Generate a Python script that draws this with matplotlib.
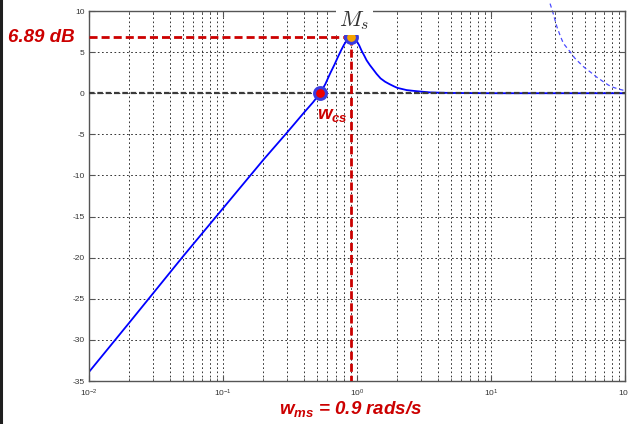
import matplotlib
matplotlib.use("Agg")
import matplotlib.pyplot as plt
from matplotlib.lines import Line2D

plt.rcParams['font.family'] = ['Liberation Sans', 'DejaVu Sans']
plt.rcParams['mathtext.fontset'] = 'custom'
plt.rcParams['mathtext.rm'] = 'Liberation Sans'
plt.rcParams['mathtext.it'] = 'Liberation Sans:italic:bold'
plt.rcParams['mathtext.bf'] = 'Liberation Sans:bold'
plt.rcParams['lines.scale_dashes'] = False
plt.rcParams['axes.unicode_minus'] = False

# Sensitivity magnitude |S(jw)| in dB
w = [0.01, 0.02, 0.05, 0.1, 0.2, 0.3, 0.4, 0.47, 0.53, 0.58, 0.63, 0.68, 0.72,
     0.76, 0.80, 0.84, 0.87, 0.90, 0.93, 0.96, 1.00, 1.04, 1.08, 1.13, 1.18,
     1.25, 1.32, 1.40, 1.50, 1.62, 1.75, 1.88, 2.0, 2.35, 2.7, 3.0, 3.5, 5.0,
     10.0, 20.0, 50.0, 100.0]
S_db = [-33.9, -27.9, -19.9, -14.0, -8.1, -4.8, -2.4, -1.1, 0.0, 1.1, 2.4, 3.5,
        4.4, 5.2, 5.9, 6.45, 6.75, 6.89, 6.85, 6.65, 6.3, 5.8, 5.2, 4.6, 4.0,
        3.4, 2.9, 2.35, 1.8, 1.4, 1.1, 0.85, 0.65, 0.38, 0.27, 0.2, 0.1, 0.03,
        0.0, 0.0, 0.0, 0.0]

# Second (dashed) magnitude curve at high frequency
w_hf = [27.6, 29.0, 31.0, 33.0, 34.7, 38.9, 42.0, 46.2, 50.0, 54.8, 61.0,
        68.9, 75.0, 81.9, 90.0, 100.0]
hf_db = [10.9, 9.8, 8.1, 6.9, 6.06, 5.05, 4.3, 3.63, 3.1, 2.61, 2.0,
         1.40, 1.0, 0.71, 0.5, 0.31]

# Marked points
w_cs, cs_db = 0.53, 0.0
w_ms, Ms_db = 0.9, 6.89

x_ticks = [0.01, 0.1, 1, 10, 100]
y_ticks = [-35, -30, -25, -20, -15, -10, -5, 0, 5, 10]

RED = '#cc0000'

fig = plt.figure(figsize=(6.28, 4.24), dpi=100)
ax = fig.add_axes([89 / 628, 1 - 381 / 424, 536 / 628, 370 / 424])
ax.set_xscale('log')
ax.set_xlim(0.01, 100)
ax.set_ylim(-35, 10)
ax.set_xticks(x_ticks)
ax.set_yticks(y_ticks)

ax.grid(True, which='both', axis='x', color='#333333', linestyle=(0, (1.2, 1.8)), lw=0.7)
ax.grid(True, which='major', axis='y', color='#333333', linestyle=(0, (1.2, 1.8)), lw=0.7)
ax.set_axisbelow(True)

for sp in ax.spines.values():
    sp.set_color('#555555')
    sp.set_linewidth(1.0)
ax.tick_params(which='both', direction='in', top=True, right=True, colors='#555555',
               labelcolor='#333333', labelsize=6)
ax.tick_params(which='major', length=4)
ax.tick_params(which='minor', length=2.5)
ax.tick_params(axis='x', pad=5)
ax.tick_params(axis='y', pad=3)

# curves
ax.plot(w, S_db, color='#0000ff', lw=1.3, zorder=2)
ax.plot(w_hf, hf_db, color='#4b4bff', lw=0.9, linestyle=(0, (3, 2.2)), clip_on=False, zorder=2)

# 0 dB reference
ax.axhline(0, color='#3a3a3a', lw=1.6, linestyle=(0, (4, 2)), zorder=3)

# peak guides
ax.plot([0.01, w_ms], [Ms_db, Ms_db], color=RED, lw=2.0, linestyle=(0, (5.8, 2.9)), zorder=4)
ax.plot([w_ms, w_ms], [Ms_db, -35], color=RED, lw=2.0, linestyle=(0, (5.8, 2.9)), zorder=4)

# markers
ax.plot([w_cs], [cs_db], marker='o', ms=8.5, mfc='#ee0000', mec='#3a3ae0', mew=2.2, zorder=6)
ax.plot([w_ms], [Ms_db], marker='o', ms=8.5, mfc='#f5a300', mec='#3a3ae0', mew=2.2, zorder=6)

# annotations
ax.text(0.957, 8.17, r'$M_s$', math_fontfamily='cm', fontsize=16, color='#333333',
        ha='center', va='baseline', zorder=7, clip_on=False,
        bbox=dict(boxstyle='square,pad=0.15', fc='white', ec='none'))
ax.text(0.50, -3.1, r'$w_{cs}$', fontsize=13.5, color=RED, ha='left', va='baseline', zorder=7)

fig.text(8 / 628, 1 - 42 / 424, '6.89 dB', fontsize=13.5, color=RED,
         fontweight='bold', fontstyle='italic', ha='left', va='baseline')
fig.text(351 / 628, 1 - 414 / 424, r'$w_{ms}$ = 0.9 rads/s', fontsize=13.5, color=RED,
         fontweight='bold', fontstyle='italic', ha='center', va='baseline')

# left frame edge
fig.add_artist(Line2D([1 / 628, 1 / 628], [0, 1], transform=fig.transFigure,
                      color='#1e1e1e', lw=2.2))

fig.savefig('out.png', dpi=100)
